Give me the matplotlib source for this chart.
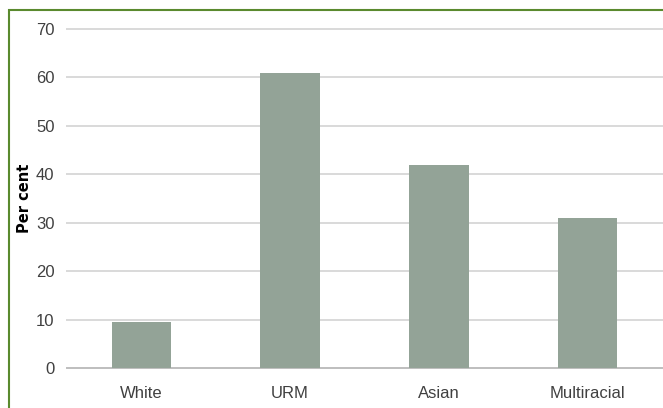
"""Share of each group, bar chart with a green frame."""
import matplotlib
matplotlib.use('Agg')
from matplotlib import pyplot as plt
from matplotlib.patches import Rectangle

categories = ['White', 'URM', 'Asian', 'Multiracial']
per_cent = [9.4, 61, 42, 31]
y_ticks = [0, 10, 20, 30, 40, 50, 60, 70]

plt.rcParams['font.family'] = ['Liberation Sans', 'DejaVu Sans']

fig = plt.figure(figsize=(6.63, 4.08), dpi=100)
ax = fig.add_axes([67 / 663, 40 / 408, 595 / 663, 339 / 408])

x = range(len(categories))
ax.bar(x, per_cent, width=0.40, color='#93a397', zorder=3)

ax.set_xlim(-0.5, len(categories) - 0.5)
ax.set_ylim(0, 70)
ax.set_yticks(y_ticks)
ax.set_xticks(list(x))
ax.set_xticklabels(categories)
ax.grid(axis='y', color='#d9d9d9', lw=1.4, zorder=0)
for line in ax.get_ygridlines():
    line.set_clip_on(False)
ax.tick_params(length=0, labelsize=12, colors='#404040')
ax.tick_params(axis='x', pad=13)
ax.tick_params(axis='y', pad=9)
for side in ('top', 'right', 'left'):
    ax.spines[side].set_visible(False)
ax.spines['bottom'].set_color('#bfbfbf')
ax.spines['bottom'].set_linewidth(1.4)

ax.set_ylabel('Per cent', family='DejaVu Sans', fontweight='bold',
              fontsize=10.5, color='black', labelpad=3)

# green frame on the top and left edges
fig.patches.append(Rectangle((9 / 663, -0.05), 1.2, 0.05 + 398 / 408,
                             transform=fig.transFigure, fill=False,
                             edgecolor='#5a8a2e', lw=1.5))

fig.savefig('out.png', dpi=100)
plt.close('all')
